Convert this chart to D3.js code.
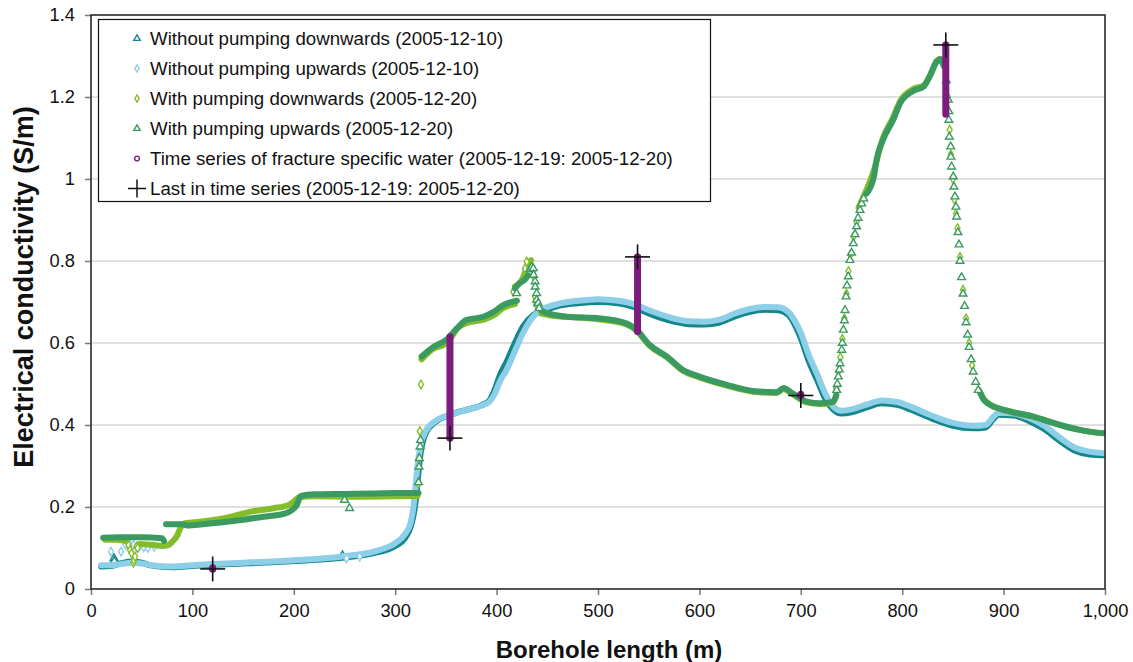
<!DOCTYPE html>
<html>
<head>
<meta charset="utf-8">
<script src="https://cdn.jsdelivr.net/npm/d3@7"></script>
<style>
  body { margin: 0; background: #fff; }
  svg { display: block; font-family: "Liberation Sans", Arial, sans-serif; }
</style>
</head>
<body>
<svg id="chart" width="1133" height="662"></svg>
<script>
// ---- Data: borehole length (m) vs electrical conductivity (S/m) ----
// Continuous logged traces; null separates segments of a trace.
const withoutDownLine = [
  [10,0.055],[20,0.056],[30,0.063],[40,0.067],[50,0.064],[60,0.057],[80,0.053],[100,0.056],
  [120,0.059],[150,0.062],[200,0.068],[250,0.077],[280,0.088],[300,0.105],[310,0.125],[315,0.15],
  [320,0.21],[322,0.26],[325,0.33],[330,0.38],[340,0.408],[355,0.425],[370,0.437],[385,0.448],
  [393,0.46],[398,0.485],[403,0.52],[410,0.555],[418,0.6],[426,0.64],[436,0.668],[446,0.678],
  [460,0.69],[480,0.697],[500,0.7],[520,0.697],[535,0.688],[550,0.672],[570,0.655],[590,0.646],
  [605,0.645],[620,0.65],[635,0.665],[650,0.676],[665,0.681],[678,0.68],[688,0.668],[695,0.64],
  [700,0.612],[708,0.555],[716,0.51],[725,0.46],[732,0.438],[740,0.428],[750,0.431],[765,0.443],
  [780,0.453],[795,0.449],[810,0.436],[830,0.415],[850,0.398],[870,0.392],[882,0.394],[890,0.415],
  [895,0.425],[910,0.423],[925,0.41],[940,0.39],[955,0.362],[970,0.338],[985,0.328],[1000,0.326]
];
const withoutUpLine = [
  [10,0.058],[20,0.058],[30,0.061],[40,0.064],[50,0.062],[60,0.058],[80,0.055],[100,0.058],
  [120,0.061],[150,0.064],[200,0.07],[250,0.08],[280,0.092],[300,0.112],[310,0.135],[315,0.16],
  [318,0.2],[320,0.25],[322,0.3],[325,0.35],[330,0.385],[340,0.41],[355,0.425],[370,0.437],
  [385,0.447],[393,0.457],[398,0.475],[403,0.505],[410,0.535],[418,0.58],[426,0.624],[436,0.664],
  [446,0.683],[460,0.695],[480,0.703],[500,0.707],[520,0.703],[535,0.695],[550,0.68],[570,0.663],
  [590,0.653],[605,0.652],[620,0.657],[635,0.672],[650,0.683],[665,0.688],[678,0.687],[688,0.675],
  [695,0.65],[700,0.625],[708,0.57],[716,0.525],[725,0.472],[732,0.445],[740,0.435],[750,0.438],
  [765,0.45],[780,0.46],[795,0.456],[810,0.443],[830,0.422],[850,0.405],[870,0.398],[882,0.4],
  [890,0.42],[895,0.43],[910,0.428],[925,0.417],[940,0.398],[955,0.37],[970,0.345],[985,0.335],
  [1000,0.331]
];
const withDownLine = [
  [14,0.12],[25,0.12],[35,0.116], null,
  [48,0.11],[60,0.108],[70,0.105],[76,0.107],[80,0.115],[85,0.13],[88,0.148],[92,0.16],[100,0.162],
  [130,0.172],[160,0.19],[180,0.197],[195,0.205],[200,0.213],[205,0.224],[220,0.226],[260,0.225],
  [300,0.226],[322,0.227], null,
  [326,0.56],[337,0.585],[351,0.6],[362,0.637],[372,0.65],[387,0.657],[397,0.667],[407,0.686],[418,0.695], null,
  [418,0.738],[424,0.75],[428,0.772],[431,0.795],[434,0.802], null,
  [444,0.672],[460,0.665],[482,0.662],[502,0.657],[528,0.645],[538,0.63],[551,0.593],[568,0.565],
  [584,0.532],[600,0.516],[627,0.496],[653,0.481],[676,0.478],[683,0.488],[692,0.475],[706,0.455],
  [719,0.451],[732,0.456],[735,0.47], null,
  [757,0.93],[765,0.975],[772,1.02],[781,1.1],[791,1.15],[798,1.19],[811,1.22],[821,1.228],
  [828,1.255],[834,1.288],[838,1.293],[841,1.28], null,
  [876,0.485],[880,0.465],[885,0.452],[890,0.445],[900,0.437],[915,0.428],[930,0.42],[945,0.408],
  [960,0.397],[975,0.388],[990,0.382],[1000,0.38]
];
const withUpLine = [
  [12,0.125],[30,0.126],[50,0.126],[70,0.124],[72,0.117], null,
  [74,0.158],[90,0.158],[95,0.155],[110,0.158],[130,0.163],[150,0.169],[170,0.176],[190,0.183],
  [198,0.192],[203,0.205],[207,0.227],[220,0.231],[250,0.232],[280,0.233],[300,0.234],[323,0.234], null,
  [326,0.567],[338,0.591],[351,0.609],[361,0.636],[370,0.656],[387,0.664],[397,0.676],[407,0.693],[420,0.703], null,
  [418,0.733],[422,0.745],[428,0.755],[431,0.765], null,
  [443,0.682],[446,0.676],[469,0.664],[502,0.66],[528,0.648],[538,0.632],[551,0.595],[568,0.567],
  [584,0.534],[600,0.518],[627,0.498],[653,0.483],[676,0.48],[683,0.49],[692,0.477],[706,0.457],
  [719,0.453],[732,0.457],[735,0.474], null,
  [765,0.965],[772,1.005],[775,1.05],[781,1.095],[791,1.144],[798,1.185],[811,1.215],[821,1.225],
  [827,1.25],[834,1.286],[837,1.292],[841,1.275], null,
  [877,0.478],[880,0.463],[885,0.452],[890,0.445],[900,0.437],[915,0.428],[930,0.42],[945,0.408],
  [960,0.397],[975,0.388],[990,0.382],[1000,0.38]
];

// Individual readings that stand apart from the traces (steep sections, outliers).
const withoutDownDots = [[22.7,0.075],[23,0.068],[248,0.082]];
const withoutUpDots = [
  [19.7,0.091],[29.6,0.091],[34,0.108],[38,0.11],[42,0.108],[45,0.103],[48,0.105],[52,0.102],
  [56,0.1],[62.4,0.103],[252,0.075],[265,0.079]
];
const withDownDots = [
  [37,0.107],[38.5,0.095],[40,0.087],[41.7,0.064],[42.5,0.07],[43.4,0.079],[45,0.103],[46,0.1],
  [323,0.258],[323.7,0.319],[324.3,0.385],[325.4,0.499],
  [416.5,0.725],[428,0.782],[429.7,0.798],[436,0.775],[437,0.76],[438,0.713],[439,0.693],[440,0.7],
  [735,0.49],[737,0.53],[739,0.565],[741,0.61],[743,0.66],[745,0.72],[747,0.775],[749,0.815],
  [752,0.86],[755,0.895],[758,0.935],
  [845,1.2],[846.8,1.12],[848,1.06],[850,1.0],[851.5,0.95],[853,0.915],[854.5,0.88],[857,0.81],
  [860,0.73],[863,0.66],[866,0.6],[869,0.545]
];
const withUpDots = [
  [250,0.217],[255,0.197],
  [323,0.26],[323.5,0.298],[323.8,0.319],[324.5,0.347],[325,0.363],
  [419.8,0.721],[433,0.78],[434.6,0.785],[436.2,0.782],[436.5,0.766],[438,0.75],[438,0.737],
  [439.5,0.721],[439.5,0.705],[441,0.697],[442,0.685],
  [735.4,0.485],[736,0.5],[737,0.518],[738,0.535],[738.7,0.55],[740.4,0.583],[741,0.6],[742,0.632],
  [743,0.655],[743.6,0.68],[744.6,0.713],[745.5,0.74],[746.8,0.762],[748.5,0.802],[750,0.82],
  [751.8,0.843],[753.5,0.865],[755,0.884],[756.5,0.905],[758.4,0.924],[760,0.94],[762,0.952],
  [843.5,1.24],[845.5,1.193],[846,1.165],[846,1.144],[846.5,1.103],[847.8,1.079],[848,1.054],
  [848.7,1.03],[850.4,1.006],[851,0.981],[852,0.957],[853,0.932],[853.7,0.908],[855,0.87],
  [856,0.84],[857,0.8],[858.5,0.76],[860,0.72],[861.5,0.69],[863,0.65],[864.5,0.62],[866,0.59],
  [868,0.56],[870,0.53],[872.5,0.505],[875,0.485]
];

// Time series of fracture specific water: depth, first and last reading.
const fractureDepth = [120, 354, 539, 700, 843];
const fractureFirst = [0.052, 0.615, 0.628, 0.475, 1.158];
const fractureLast  = [0.049, 0.368, 0.81, 0.472, 1.327];

// Axis ticks and labels
const xTicks = [0,100,200,300,400,500,600,700,800,900,1000];
const yTicks = [0,0.2,0.4,0.6,0.8,1,1.2,1.4];

const legendLabels = [
  "Without pumping downwards (2005-12-10)",
  "Without pumping upwards (2005-12-10)",
  "With pumping downwards (2005-12-20)",
  "With pumping upwards (2005-12-20)",
  "Time series of fracture specific water (2005-12-19: 2005-12-20)",
  "Last in time series (2005-12-19: 2005-12-20)"
];

// ---- Drawing ----
const svg = d3.select("#chart");
const W = 1133, H = 662;
const plot = {left: 91, right: 1105, top: 15, bottom: 589};

const x = d3.scaleLinear().domain([0, 1000]).range([plot.left, plot.right]);
const y = d3.scaleLinear().domain([0, 1.4]).range([plot.bottom, plot.top]);

const col = {
  withoutDown: "#13878a",
  withoutUp: "#8dcfe8",
  withDown: "#84bd2a",
  withUp: "#3a9a5f",
  fracture: "#7d1c7f"
};

svg.append("rect").attr("width", W).attr("height", H).attr("fill", "#fff");

// gridlines
svg.append("g")
  .selectAll("line").data(yTicks.filter(t => t > 0 && t < 1.4)).join("line")
  .attr("x1", plot.left).attr("x2", plot.right)
  .attr("y1", d => y(d)).attr("y2", d => y(d))
  .attr("stroke", "#d6d6d6").attr("stroke-width", 1.5);

// axes
const fmtX = d3.format(",");
const xAxis = svg.append("g").attr("transform", `translate(0,${plot.bottom})`)
  .call(d3.axisBottom(x).tickValues(xTicks).tickFormat(d => fmtX(d)).tickSize(6).tickPadding(9));
const yAxis = svg.append("g").attr("transform", `translate(${plot.left},0)`)
  .call(d3.axisLeft(y).tickValues(yTicks).tickFormat(d => String(d)).tickSize(6).tickPadding(10));
[xAxis, yAxis].forEach(g => {
  g.select(".domain").remove();
  g.selectAll(".tick line").attr("stroke", "#7a7a7a").attr("stroke-width", 1.5);
  g.selectAll(".tick text").attr("font-size", 18.3).attr("fill", "#111")
    .attr("font-family", "Liberation Sans, Arial, sans-serif");
});

svg.append("defs").append("clipPath").attr("id", "plotclip")
  .append("rect").attr("x", plot.left).attr("y", plot.top - 10)
  .attr("width", plot.right - plot.left).attr("height", plot.bottom - plot.top + 10);

const layer = svg.append("g").attr("clip-path", "url(#plotclip)");

const line = d3.line()
  .defined(d => d !== null)
  .x(d => x(d[0])).y(d => y(d[1]))
  .curve(d3.curveMonotoneX);

const tri = d3.symbol(d3.symbolTriangle, 26);
const dia = d3.symbol(d3.symbolDiamond, 22);

function drawSeries(lineData, dots, color, shape, width) {
  layer.append("path").datum(lineData)
    .attr("d", line).attr("fill", "none").attr("stroke", color)
    .attr("stroke-width", width).attr("stroke-linejoin", "round").attr("stroke-linecap", "round");
  layer.append("g").selectAll("path").data(dots).join("path")
    .attr("d", shape)
    .attr("transform", d => `translate(${x(d[0])},${y(d[1])})`)
    .attr("fill", "#fff").attr("stroke", color).attr("stroke-width", 1.4);
}

drawSeries(withoutDownLine, withoutDownDots, col.withoutDown, tri, 6);
drawSeries(withoutUpLine, withoutUpDots, col.withoutUp, dia, 6);
drawSeries(withDownLine, withDownDots, col.withDown, dia, 6);
drawSeries(withUpLine, withUpDots, col.withUp, tri, 6);

// fracture water time series as a stack of readings
const frac = fractureDepth.map((d, i) => ({depth: d, first: fractureFirst[i], last: fractureLast[i]}));
layer.append("g").selectAll("line").data(frac).join("line")
  .attr("x1", d => x(d.depth)).attr("x2", d => x(d.depth))
  .attr("y1", d => y(d.first)).attr("y2", d => y(d.last))
  .attr("stroke", col.fracture).attr("stroke-width", 7).attr("stroke-linecap", "round");
layer.append("g").selectAll("circle").data(frac).join("circle")
  .attr("cx", d => x(d.depth)).attr("cy", d => y(d.last)).attr("r", 3.5)
  .attr("fill", col.fracture);

// last reading crosses
const crossHalf = 12.5;
const crosses = svg.append("g");
frac.forEach(d => {
  const cx = x(d.depth), cy = y(d.last);
  crosses.append("line").attr("x1", cx - crossHalf).attr("x2", cx + crossHalf)
    .attr("y1", cy).attr("y2", cy).attr("stroke", "#111").attr("stroke-width", 1.6);
  crosses.append("line").attr("x1", cx).attr("x2", cx)
    .attr("y1", cy - crossHalf).attr("y2", cy + crossHalf).attr("stroke", "#111").attr("stroke-width", 1.6);
});

// plot frame
svg.append("rect")
  .attr("x", plot.left).attr("y", plot.top)
  .attr("width", plot.right - plot.left).attr("height", plot.bottom - plot.top)
  .attr("fill", "none").attr("stroke", "#2a2a2a").attr("stroke-width", 1.6);

// legend
const lg = svg.append("g");
lg.append("rect").attr("x", 98.5).attr("y", 19.5).attr("width", 612).attr("height", 182)
  .attr("fill", "#fff").attr("stroke", "#111").attr("stroke-width", 1.2);
const legendSym = [
  {shape: d3.symbol(d3.symbolTriangle, 18), color: col.withoutDown},
  {shape: d3.symbol(d3.symbolDiamond, 16), color: col.withoutUp},
  {shape: d3.symbol(d3.symbolDiamond, 16), color: col.withDown},
  {shape: d3.symbol(d3.symbolTriangle, 18), color: col.withUp},
  {shape: d3.symbol(d3.symbolCircle, 18), color: col.fracture},
  {shape: null, color: "#111"}
];
legendLabels.forEach((t, i) => {
  const cy = 38.5 + i * 30;
  const s = legendSym[i];
  if (s.shape) {
    lg.append("path").attr("d", s.shape).attr("transform", `translate(137,${cy})`)
      .attr("fill", "#fff").attr("stroke", s.color).attr("stroke-width", 1.4);
  } else {
    lg.append("line").attr("x1", 128).attr("x2", 146).attr("y1", cy).attr("y2", cy)
      .attr("stroke", s.color).attr("stroke-width", 1.5);
    lg.append("line").attr("x1", 137).attr("x2", 137).attr("y1", cy - 9).attr("y2", cy + 9)
      .attr("stroke", s.color).attr("stroke-width", 1.5);
  }
  lg.append("text").attr("x", 150).attr("y", cy).attr("dy", "0.35em")
    .attr("font-size", 18.7).attr("fill", "#111").text(t);
});

// axis titles
svg.append("text")
  .attr("transform", `translate(33,287) rotate(-90)`)
  .attr("text-anchor", "middle").attr("font-size", 27).attr("font-weight", "bold").attr("fill", "#111")
  .text("Electrical conductivity (S/m)");
svg.append("text")
  .attr("x", (plot.left + plot.right) / 2 + 11).attr("y", 658)
  .attr("text-anchor", "middle").attr("font-size", 24).attr("font-weight", "bold").attr("fill", "#111")
  .text("Borehole length (m)");
</script>
</body>
</html>
